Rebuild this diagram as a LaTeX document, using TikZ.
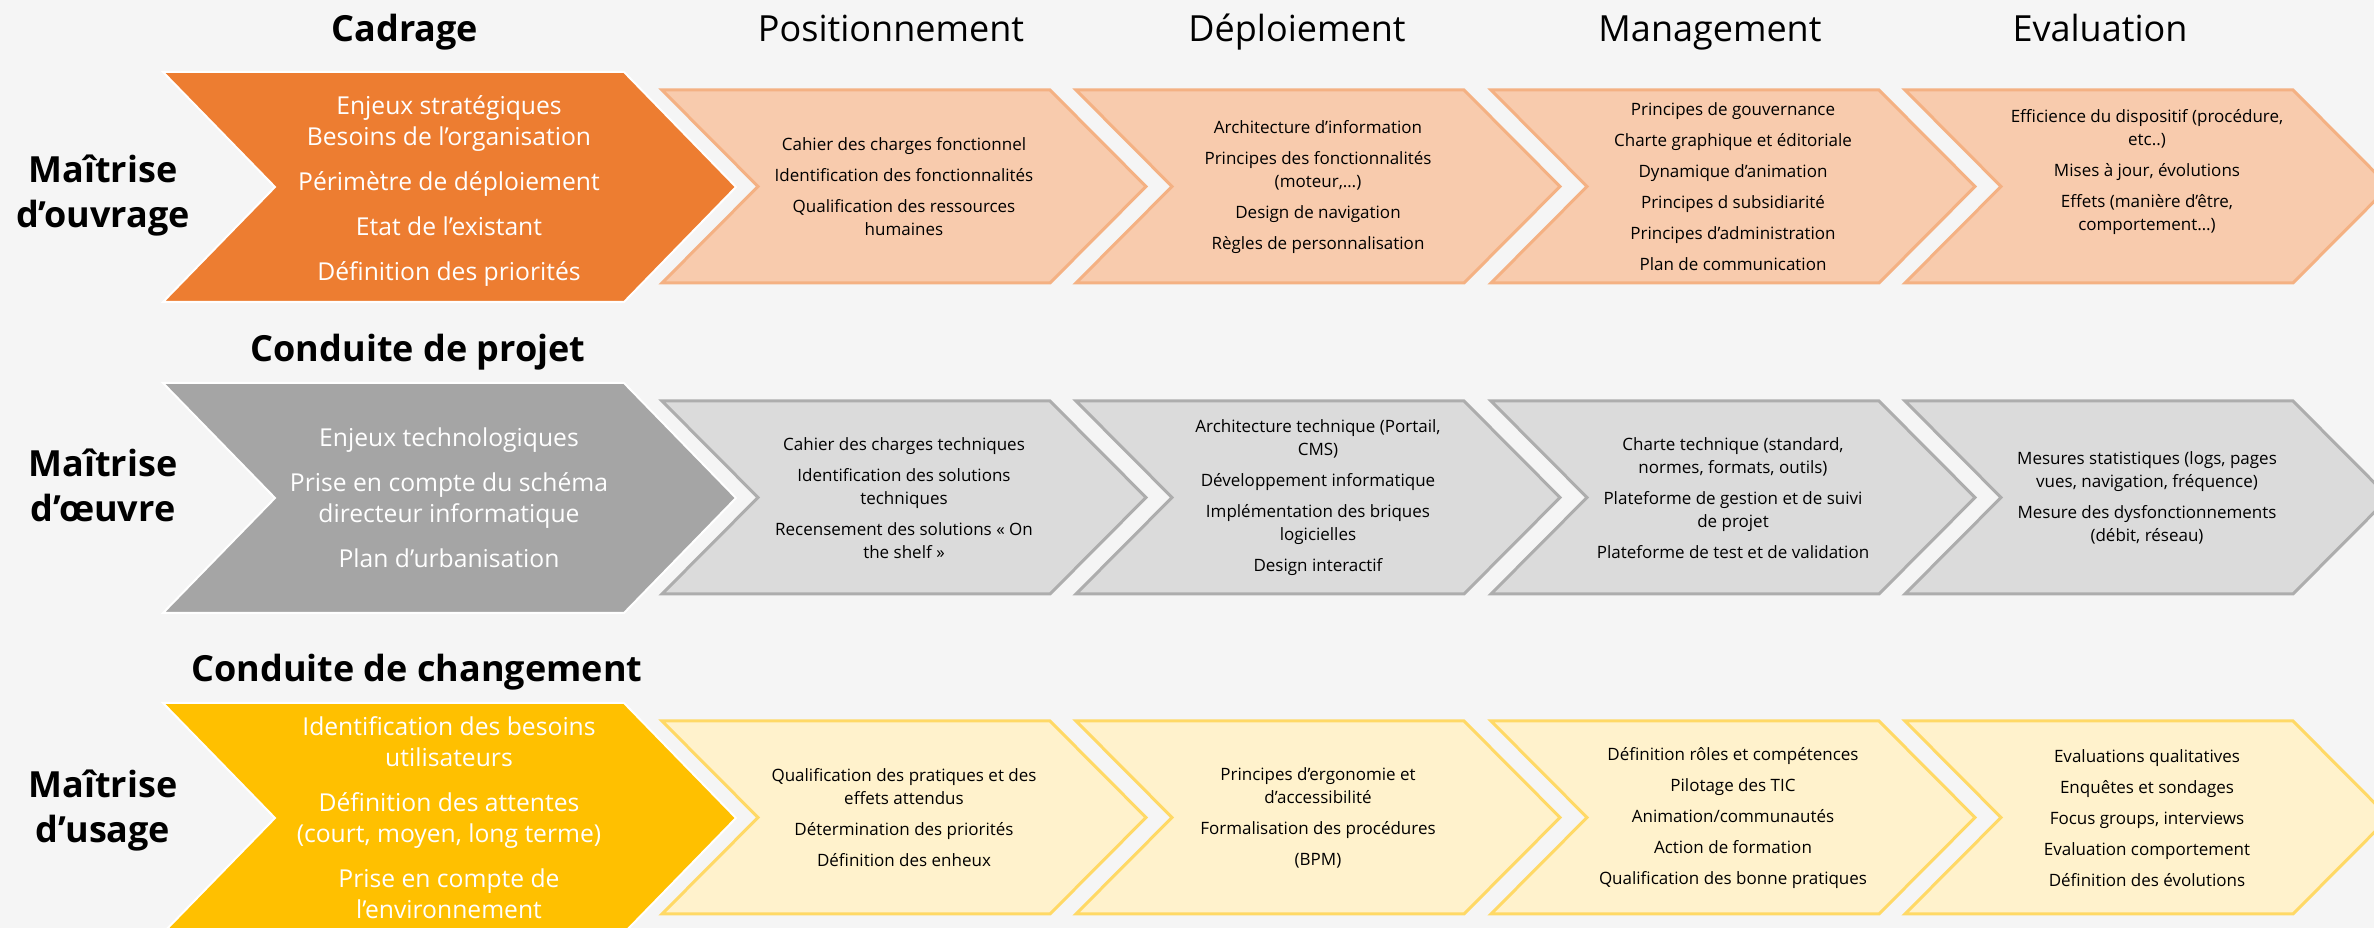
\documentclass[tikz,border=0pt]{standalone}
\usepackage{fontspec}
\setmainfont{Open Sans}

\definecolor{bgcol}{HTML}{F5F5F5}
\definecolor{orD}{HTML}{ED7D31}
\definecolor{orL}{HTML}{F8CBAD}
\definecolor{orE}{HTML}{F4B183}
\definecolor{grD}{HTML}{A5A5A5}
\definecolor{grL}{HTML}{DBDBDB}
\definecolor{grE}{HTML}{ADADAD}
\definecolor{yeD}{HTML}{FFC000}
\definecolor{yeL}{HTML}{FFF2CC}
\definecolor{yeE}{HTML}{FFD966}

\begin{document}
\begin{tikzpicture}[x=0.3pt,y=-0.3pt,
    head/.style={font=\fontsize{10.8}{13}\selectfont, anchor=base},
    rowlab/.style={align=center, font=\bfseries\fontsize{10.8}{13.5}\selectfont},
    bigtxt/.style={text=white, align=center, font=\fontsize{7.4}{9.3}\selectfont},
    smalltxt/.style={align=center, font=\fontsize{5.1}{6.9}\selectfont},
    bigchev/.style={draw=white, line width=0.6pt, line join=miter},
    chev/.style={line width=0.9pt, line join=miter}]
    \clip (0,0) rectangle (2374,928);
    \fill[bgcol] (0,0) rectangle (2374,928);

    % column headers
    \node[head, font=\bfseries\fontsize{10.8}{13}\selectfont] (cad) at (405,42) {Cadrage};
    \node[head] (pos) at (891,42) {Positionnement};
    \node[head] (dep) at (1297,42) {Déploiement};
    \node[head] (man) at (1710,42) {Management};
    \node[head] (eva) at (2100,42) {Evaluation};
    \node[head, font=\bfseries\fontsize{10.8}{13}\selectfont] (cdp) at (418,362) {Conduite de projet};
    \node[head, font=\bfseries\fontsize{10.8}{13}\selectfont] (cdc) at (417,682) {Conduite de changement};

    % row labels
    \node[rowlab] (mo) at (103,196) {Maîtrise\\d’ouvrage};
    \node[rowlab] (moe) at (103,485) {Maîtrise\\d’œuvre};
    \node[rowlab] (mu) at (103,811) {Maîtrise\\d’usage};

    % ouvrage
    \draw[bigchev, fill=orD] (163,72) -- ++(461,0) -- ++(112,115) -- ++(-112,115) -- ++(-461,0) -- ++(112,-115) -- cycle;
    \draw[chev, fill=orL, draw=orE] (662,90) -- ++(388,0) -- ++(96,96.5) -- ++(-96,96.5) -- ++(-388,0) -- ++(96,-96.5) -- cycle;
    \draw[chev, fill=orL, draw=orE] (1076,90) -- ++(388,0) -- ++(96,96.5) -- ++(-96,96.5) -- ++(-388,0) -- ++(96,-96.5) -- cycle;
    \draw[chev, fill=orL, draw=orE] (1491,90) -- ++(388,0) -- ++(96,96.5) -- ++(-96,96.5) -- ++(-388,0) -- ++(96,-96.5) -- cycle;
    \draw[chev, fill=orL, draw=orE] (1905,90) -- ++(388,0) -- ++(96,96.5) -- ++(-96,96.5) -- ++(-388,0) -- ++(96,-96.5) -- cycle;

    \node[bigtxt] (o0) at (449,191) {Enjeux stratégiques\\Besoins de l’organisation\\[4.2pt]Périmètre de déploiement\\[4.2pt]Etat de l’existant\\[4.2pt]Définition des priorités};
    \node[smalltxt] (o1) at (904,187) {Cahier des charges fonctionnel\\[2.4pt]Identification des fonctionnalités\\[2.4pt]Qualification des ressources\\humaines};
    \node[smalltxt] (o2) at (1318,187) {Architecture d’information\\[2.4pt]Principes des fonctionnalités\\(moteur,…)\\[2.4pt]Design de navigation\\[2.4pt]Règles de personnalisation};
    \node[smalltxt] (o3) at (1733,187) {Principes de gouvernance\\[2.4pt]Charte graphique et éditoriale\\[2.4pt]Dynamique d’animation\\[2.4pt]Principes d subsidiarité\\[2.4pt]Principes d’administration\\[2.4pt]Plan de communication};
    \node[smalltxt] (o4) at (2147,172) {Efficience du dispositif (procédure,\\etc..)\\[2.4pt]Mises à jour, évolutions\\[2.4pt]Effets (manière d’être,\\comportement…)};

    % oeuvre
    \draw[bigchev, fill=grD] (163,383) -- ++(461,0) -- ++(112,115) -- ++(-112,115) -- ++(-461,0) -- ++(112,-115) -- cycle;
    \draw[chev, fill=grL, draw=grE] (662,401) -- ++(388,0) -- ++(96,96.5) -- ++(-96,96.5) -- ++(-388,0) -- ++(96,-96.5) -- cycle;
    \draw[chev, fill=grL, draw=grE] (1076,401) -- ++(388,0) -- ++(96,96.5) -- ++(-96,96.5) -- ++(-388,0) -- ++(96,-96.5) -- cycle;
    \draw[chev, fill=grL, draw=grE] (1491,401) -- ++(388,0) -- ++(96,96.5) -- ++(-96,96.5) -- ++(-388,0) -- ++(96,-96.5) -- cycle;
    \draw[chev, fill=grL, draw=grE] (1905,401) -- ++(388,0) -- ++(96,96.5) -- ++(-96,96.5) -- ++(-388,0) -- ++(96,-96.5) -- cycle;

    \node[bigtxt] (e0) at (449,498) {Enjeux technologiques\\[4.2pt]Prise en compte du schéma\\directeur informatique\\[4.2pt]Plan d’urbanisation};
    \node[smalltxt] (e1) at (904,498) {Cahier des charges techniques\\[2.4pt]Identification des solutions\\techniques\\[2.4pt]Recensement des solutions « On\\the shelf »};
    \node[smalltxt] (e2) at (1318,498) {Architecture technique (Portail,\\CMS)\\[2.4pt]Développement informatique\\[2.4pt]Implémentation des briques\\logicielles\\[2.4pt]Design interactif};
    \node[smalltxt] (e3) at (1733,498) {Charte technique (standard,\\normes, formats, outils)\\[2.4pt]Plateforme de gestion et de suivi\\de projet\\[2.4pt]Plateforme de test et de validation};
    \node[smalltxt] (e4) at (2147,498) {Mesures statistiques (logs, pages\\vues, navigation, fréquence)\\[2.4pt]Mesure des dysfonctionnements\\(débit, réseau)};

    % usage
    \draw[bigchev, fill=yeD] (163,703) -- ++(461,0) -- ++(112,115) -- ++(-112,115) -- ++(-461,0) -- ++(112,-115) -- cycle;
    \draw[chev, fill=yeL, draw=yeE] (662,721) -- ++(388,0) -- ++(96,96.5) -- ++(-96,96.5) -- ++(-388,0) -- ++(96,-96.5) -- cycle;
    \draw[chev, fill=yeL, draw=yeE] (1076,721) -- ++(388,0) -- ++(96,96.5) -- ++(-96,96.5) -- ++(-388,0) -- ++(96,-96.5) -- cycle;
    \draw[chev, fill=yeL, draw=yeE] (1491,721) -- ++(388,0) -- ++(96,96.5) -- ++(-96,96.5) -- ++(-388,0) -- ++(96,-96.5) -- cycle;
    \draw[chev, fill=yeL, draw=yeE] (1905,721) -- ++(388,0) -- ++(96,96.5) -- ++(-96,96.5) -- ++(-388,0) -- ++(96,-96.5) -- cycle;

    \node[bigtxt] (u0) at (449,818) {Identification des besoins\\utilisateurs\\[4.2pt]Définition des attentes\\(court, moyen, long terme)\\[4.2pt]Prise en compte de\\l’environnement};
    \node[smalltxt] (u1) at (904,818) {Qualification des pratiques et des\\effets attendus\\[2.4pt]Détermination des priorités\\[2.4pt]Définition des enheux};
    \node[smalltxt] (u2) at (1318,818) {Principes d’ergonomie et\\d’accessibilité\\[2.4pt]Formalisation des procédures\\[2.4pt](BPM)};
    \node[smalltxt] (u3) at (1733,818) {Définition rôles et compétences\\[2.4pt]Pilotage des TIC\\[2.4pt]Animation/communautés\\[2.4pt]Action de formation\\[2.4pt]Qualification des bonne pratiques};
    \node[smalltxt] (u4) at (2147,818) {Evaluations qualitatives\\[2.4pt]Enquêtes et sondages\\[2.4pt]Focus groups, interviews\\[2.4pt]Evaluation comportement\\[2.4pt]Définition des évolutions};
  \end{tikzpicture}
\end{document}
